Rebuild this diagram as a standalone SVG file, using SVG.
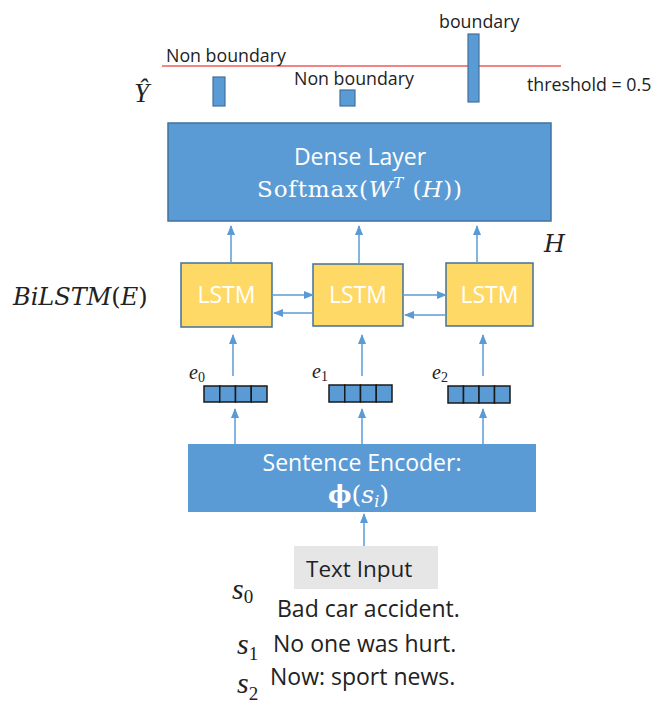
<svg xmlns="http://www.w3.org/2000/svg" width="656" height="711" viewBox="0 0 656 711">
<style>
.lbl{font-family:"Open Sans","Liberation Sans",sans-serif;fill:#222;}
.wt{font-family:"Open Sans","Liberation Sans",sans-serif;fill:#fff;font-size:23px;text-anchor:middle;}
.mi{font-family:"Liberation Serif","DejaVu Serif",serif;font-style:italic;fill:#222;}
.mu{font-family:"DejaVu Serif","Liberation Serif",serif;}
.blue{fill:#5B9BD5;stroke:#41719C;stroke-width:1.5;}
.lstm{fill:#FFD966;stroke:#41719C;stroke-width:1.5;}
.bar{fill:#5B9BD5;stroke:#41719C;stroke-width:1.2;}
.cell{fill:#5B9BD5;stroke:#1a1a1a;stroke-width:1.5;}
.arr{stroke:#5B9BD5;stroke-width:1.5;fill:none;marker-end:url(#ah);}
</style>
<defs>
<marker id="ah" markerUnits="userSpaceOnUse" markerWidth="10" markerHeight="10" viewBox="0 0 10 10" refX="9" refY="5" orient="auto">
<path d="M0,1 L10,5 L0,9 Z" fill="#5B9BD5"/>
</marker>
</defs>

<g id="output">
<line x1="162" y1="66" x2="561" y2="66" stroke="#F05A5A" stroke-width="1.5"/>
<text class="lbl" x="166" y="62" font-size="17.8">Non boundary</text>
<text class="lbl" x="294" y="85" font-size="17.8">Non boundary</text>
<text class="lbl" x="439" y="28" font-size="17.8">boundary</text>
<text class="lbl" x="527" y="91" font-size="17.8">threshold = 0.5</text>
<text class="mi" x="134" y="102" font-size="27">Ŷ</text>
<rect class="bar" x="213" y="77" width="12" height="29"/>
<rect class="bar" x="340" y="90" width="15" height="16"/>
<rect class="bar" x="468" y="34" width="11" height="68"/>
</g>

<g id="dense">
<rect class="blue" x="168" y="123" width="383" height="98"/>
<text class="wt" x="360" y="165">Dense Layer</text>
<text class="mu" x="257" y="197" font-size="23" fill="#fff" textLength="205" lengthAdjust="spacing">Softmax(<tspan font-style="italic">W</tspan><tspan font-style="italic" font-size="15" dy="-9">T</tspan><tspan dy="9"> (</tspan><tspan font-style="italic">H</tspan>))</text>
</g>

<g id="H-label">
<text class="mu" x="544" y="252" font-size="24" font-style="italic" fill="#222">H</text>
</g>

<g id="bilstm-label">
<text class="mu" x="13" y="305" font-size="24" fill="#222"><tspan font-style="italic">BiLSTM</tspan>(<tspan font-style="italic">E</tspan>)</text>
</g>

<g id="lstm0">
<rect class="lstm" x="181" y="263" width="91" height="64"/>
<text class="wt" x="226.5" y="303">LSTM</text>
</g>
<g id="lstm1">
<rect class="lstm" x="313" y="264" width="90" height="62"/>
<text class="wt" x="358" y="303">LSTM</text>
</g>
<g id="lstm2">
<rect class="lstm" x="446" y="263" width="87" height="63"/>
<text class="wt" x="489.5" y="303">LSTM</text>
</g>

<g id="e0">
<rect class="cell" x="204" y="386" width="15.75" height="16"/>
<rect class="cell" x="219.75" y="386" width="15.75" height="16"/>
<rect class="cell" x="235.5" y="386" width="15.75" height="16"/>
<rect class="cell" x="251.25" y="386" width="15.75" height="16"/>
<text class="mi" x="189" y="379" font-size="20">e<tspan font-style="normal" font-size="14" dy="3">0</tspan></text>
</g>
<g id="e1">
<rect class="cell" x="329" y="385" width="15.75" height="17"/>
<rect class="cell" x="344.75" y="385" width="15.75" height="17"/>
<rect class="cell" x="360.5" y="385" width="15.75" height="17"/>
<rect class="cell" x="376.25" y="385" width="15.75" height="17"/>
<text class="mi" x="312" y="378" font-size="20">e<tspan font-style="normal" font-size="14" dy="3">1</tspan></text>
</g>
<g id="e2">
<rect class="cell" x="448" y="386" width="15.5" height="17"/>
<rect class="cell" x="463.5" y="386" width="15.5" height="17"/>
<rect class="cell" x="479" y="386" width="15.5" height="17"/>
<rect class="cell" x="494.5" y="386" width="15.5" height="17"/>
<text class="mi" x="432" y="379" font-size="20">e<tspan font-style="normal" font-size="14" dy="3">2</tspan></text>
</g>

<g id="encoder">
<rect x="188" y="444" width="348" height="68" fill="#5B9BD5"/>
<text class="wt" x="362" y="471">Sentence Encoder:</text>
<text x="328" y="503" font-size="25" fill="#fff" class="mu"><tspan font-weight="bold">ϕ</tspan>(<tspan font-style="italic">s</tspan><tspan font-style="italic" font-size="16" dy="4">i</tspan><tspan dy="-4">)</tspan></text>
</g>

<g id="text-input">
<rect x="294" y="546" width="144" height="43" fill="#E7E6E6"/>
<text class="lbl" x="306" y="577" font-size="22.5">Text Input</text>
</g>

<g id="sentences">
<text class="mi" x="232" y="599" font-size="30">s<tspan font-style="normal" font-size="19" dy="4">0</tspan></text>
<text class="lbl" x="277" y="617" font-size="23">Bad car accident.</text>
<text class="mi" x="237" y="654" font-size="30">s<tspan font-style="normal" font-size="19" dy="6">1</tspan></text>
<text class="lbl" x="273" y="652" font-size="23">No one was hurt.</text>
<text class="mi" x="237" y="693" font-size="30">s<tspan font-style="normal" font-size="19" dy="7">2</tspan></text>
<text class="lbl" x="270" y="685" font-size="23">Now: sport news.</text>
</g>

<g id="connectors">
<line class="arr" x1="231" y1="263" x2="231" y2="226"/>
<line class="arr" x1="359" y1="264" x2="359" y2="226"/>
<line class="arr" x1="477" y1="263" x2="477" y2="226"/>
<line class="arr" x1="272" y1="295" x2="313" y2="295"/>
<line class="arr" x1="403" y1="295" x2="446" y2="295"/>
<line class="arr" x1="313" y1="313" x2="274" y2="313"/>
<line class="arr" x1="446" y1="315" x2="405" y2="315"/>
<line class="arr" x1="233" y1="376" x2="233" y2="335"/>
<line class="arr" x1="362" y1="376" x2="362" y2="335"/>
<line class="arr" x1="483" y1="376" x2="483" y2="335"/>
<line class="arr" x1="235" y1="444" x2="235" y2="409"/>
<line class="arr" x1="362" y1="444" x2="362" y2="409"/>
<line class="arr" x1="483" y1="444" x2="483" y2="409"/>
<line class="arr" x1="364" y1="546" x2="364" y2="514"/>
</g>
</svg>
